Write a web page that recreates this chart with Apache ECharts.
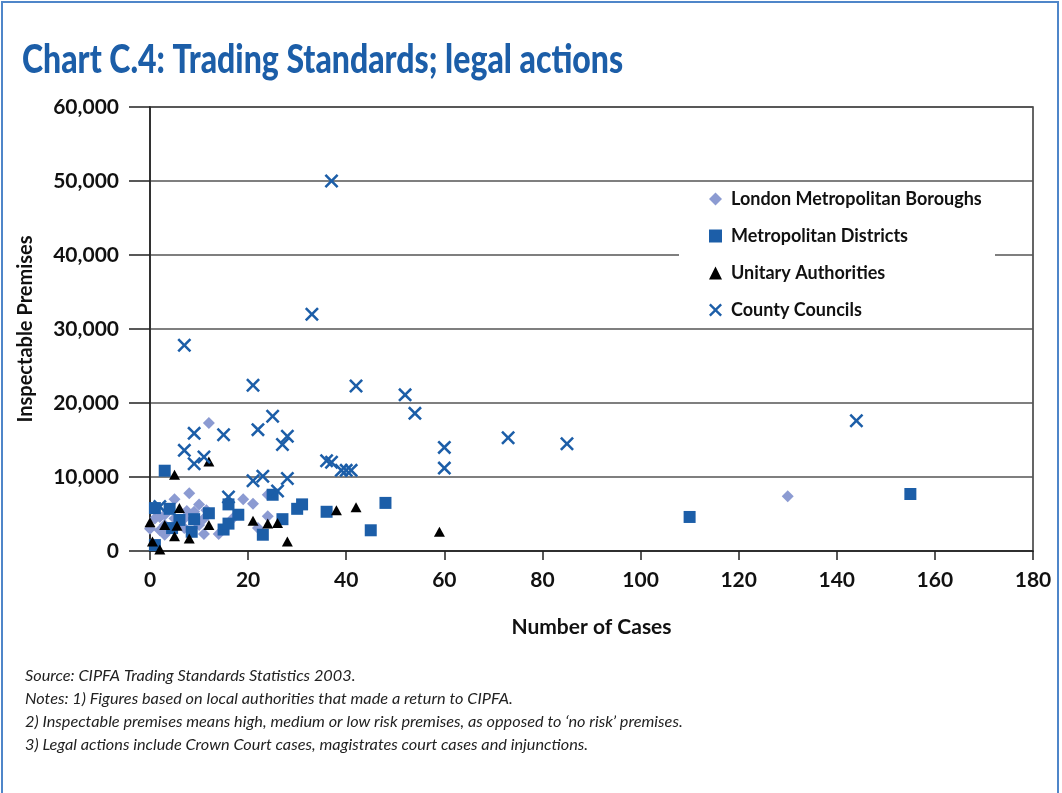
<!DOCTYPE html>
<html>
<head>
<meta charset="utf-8">
<script src="https://cdn.jsdelivr.net/npm/echarts@6/dist/echarts.min.js"></script>
<style>
html, body { margin: 0; padding: 0; background: #fff; }
#chart { width: 1062px; height: 793px; }
</style>
</head>
<body>
<div id="chart"></div>
<script>
// [number of cases, inspectable premises]
var londonBoroughs = [
	[12, 17300], [8, 7800], [5, 7000], [10, 6300], [19, 7000], [21, 6400], [24, 7600],
	[7.5, 5400], [9, 5300], [11.5, 5500], [1, 4400], [3, 4900], [5, 4400], [7, 4400],
	[11, 4400], [17, 4500], [24, 4700], [10, 3500], [3, 3500], [22, 3100], [0, 3000],
	[2, 2800], [7, 3100], [11, 2300], [14, 2300], [3, 2200], [2, 4600], [130, 7400]
];
var metDistricts = [
	[3, 10850], [16, 6300], [12, 5100], [18, 4900], [1, 5800], [4, 5700], [9, 4300],
	[6, 4200], [4.5, 3100], [15, 2900], [16, 3700], [8.5, 2600], [23, 2200], [1, 800],
	[25, 7600], [27, 4300], [30, 5700], [31, 6300], [36, 5300], [45, 2800], [48, 6500],
	[110, 4600], [155, 7700]
];
var unitaryAuth = [
	[12, 12100], [5, 10300], [6, 5800], [0, 3900], [3, 3500], [5.5, 3400], [12, 3500],
	[5, 2000], [8, 1700], [0.5, 1300], [2, 200], [21, 4100], [24, 3700], [26, 3800],
	[28, 1300], [38, 5500], [42, 5900], [59, 2600]
];
var countyCouncils = [
	[37, 50000], [33, 32000], [7, 27800], [21, 22400], [42, 22300], [52, 21100], [54, 18600],
	[25, 18200], [22, 16400], [9, 15900], [15, 15700], [28, 15500], [27, 14400], [7, 13600],
	[11, 12700], [9, 11800], [60, 14000], [73, 15300], [85, 14500], [144, 17600], [60, 11200],
	[36, 12200], [37, 12000], [39, 10900], [40, 10900], [41, 10900], [21, 9500], [23, 10100],
	[28, 9800], [26, 8100], [16, 7300], [2, 6000]
];
var seriesNames = ['London Metropolitan Boroughs', 'Metropolitan Districts', 'Unitary Authorities', 'County Councils'];
var notes = [
	'Source: CIPFA Trading Standards Statistics 2003.',
	'Notes: 1) Figures based on local authorities that made a return to CIPFA.',
	'2) Inspectable premises means high, medium or low risk premises, as opposed to \u2018no risk\u2019 premises.',
	'3) Legal actions include Crown Court cases, magistrates court cases and injunctions.'
];

var BLUE = '#1c5ea8';
var LILAC = '#8c9bd2';
var crossPath = 'path://M0,1.8L1.8,0L7,5.2L12.2,0L14,1.8L8.8,7L14,12.2L12.2,14L7,8.8L1.8,14L0,12.2L5.2,7Z';
var font = 'Lato, "Open Sans", sans-serif';

var myChart = echarts.init(document.getElementById('chart'));

var graphics = [ {
	type : 'rect',
	shape : { x : 2, y : 2, width : 1056, height : 820 },
	style : { fill : 'none', stroke : '#4f86c9', lineWidth : 2 },
	silent : true
}, {
	type : 'text',
	left : 22,
	top : 40,
	scaleX : 0.8,
	style : {
		text : 'Chart C.4: Trading Standards; legal actions',
		fill : BLUE,
		font : '900 40px ' + font
	}
}, {
	// white panel behind the legend, hides the 40,000 gridline
	type : 'rect',
	shape : { x : 679, y : 184, width : 316, height : 142 },
	style : { fill : '#fff' },
	z : 3,
	silent : true
} ];
for (var i = 0; i < notes.length; i++) {
	graphics.push({
		type : 'text',
		left : 25,
		top : 668 + i * 23,
		style : {
			text : notes[i],
			fill : '#222',
			font : 'italic 16.3px ' + font
		}
	});
}

option = {
	backgroundColor : '#fff',
	animation : false,
	graphic : graphics,
	grid : {
		left : 150,
		right : 29,
		top : 107,
		bottom : 242,
		show : true,
		borderColor : '#333',
		borderWidth : 1.5
	},
	legend : {
		orient : 'vertical',
		left : 704,
		top : 185,
		z : 5,
		itemWidth : 13,
		itemHeight : 13,
		itemGap : 19,
		symbolKeepAspect : true,
		textStyle : {
			fontFamily : font,
			fontWeight : 'bold',
			fontSize : 18,
			color : '#111',
			padding : [0, 0, 0, 4]
		},
		data : [
			{ name : seriesNames[0], icon : 'diamond' },
			{ name : seriesNames[1], icon : 'rect' },
			{ name : seriesNames[2], icon : 'triangle' },
			{ name : seriesNames[3], icon : crossPath }
		]
	},
	xAxis : {
		type : 'value',
		min : 0,
		max : 180,
		interval : 20,
		name : 'Number of Cases',
		nameLocation : 'middle',
		nameGap : 66,
		nameTextStyle : {
			fontFamily : font,
			fontWeight : 'bold',
			fontSize : 21,
			color : '#111'
		},
		axisLine : { lineStyle : { color : '#222', width : 1.5 } },
		axisTick : { show : true, length : 9, lineStyle : { color : '#222', width : 1.5 } },
		axisLabel : {
			margin : 19,
			fontFamily : font,
			fontWeight : 'bold',
			fontSize : 21,
			color : '#111'
		},
		splitLine : { show : false }
	},
	yAxis : {
		type : 'value',
		min : 0,
		max : 60000,
		interval : 10000,
		name : 'Inspectable Premises',
		nameLocation : 'middle',
		nameGap : 114,
		nameTextStyle : {
			fontFamily : font,
			fontWeight : 'bold',
			fontSize : 20,
			color : '#111'
		},
		axisLine : { show : true, lineStyle : { color : '#222', width : 1.5 } },
		axisTick : { show : true, length : 21, lineStyle : { color : '#222', width : 1.5 } },
		axisLabel : {
			margin : 31,
			fontFamily : font,
			fontWeight : 'bold',
			fontSize : 21,
			color : '#111',
			formatter : function (v) { return v.toLocaleString('en-GB'); }
		},
		splitLine : { lineStyle : { color : '#555', width : 1.5 } }
	},
	series : [ {
		name : seriesNames[0],
		type : 'scatter',
		symbol : 'diamond',
		symbolSize : 12,
		itemStyle : { color : LILAC, opacity : 1 },
		data : londonBoroughs
	}, {
		name : seriesNames[1],
		type : 'scatter',
		symbol : 'rect',
		symbolSize : 12,
		itemStyle : { color : BLUE, opacity : 1 },
		data : metDistricts
	}, {
		name : seriesNames[2],
		type : 'scatter',
		symbol : 'triangle',
		symbolSize : [11, 10],
		itemStyle : { color : '#000', opacity : 1 },
		data : unitaryAuth
	}, {
		name : seriesNames[3],
		type : 'scatter',
		symbol : crossPath,
		symbolSize : 14,
		itemStyle : { color : BLUE, opacity : 1 },
		data : countyCouncils
	} ]
};
myChart.setOption(option);
</script>
</body>
</html>
